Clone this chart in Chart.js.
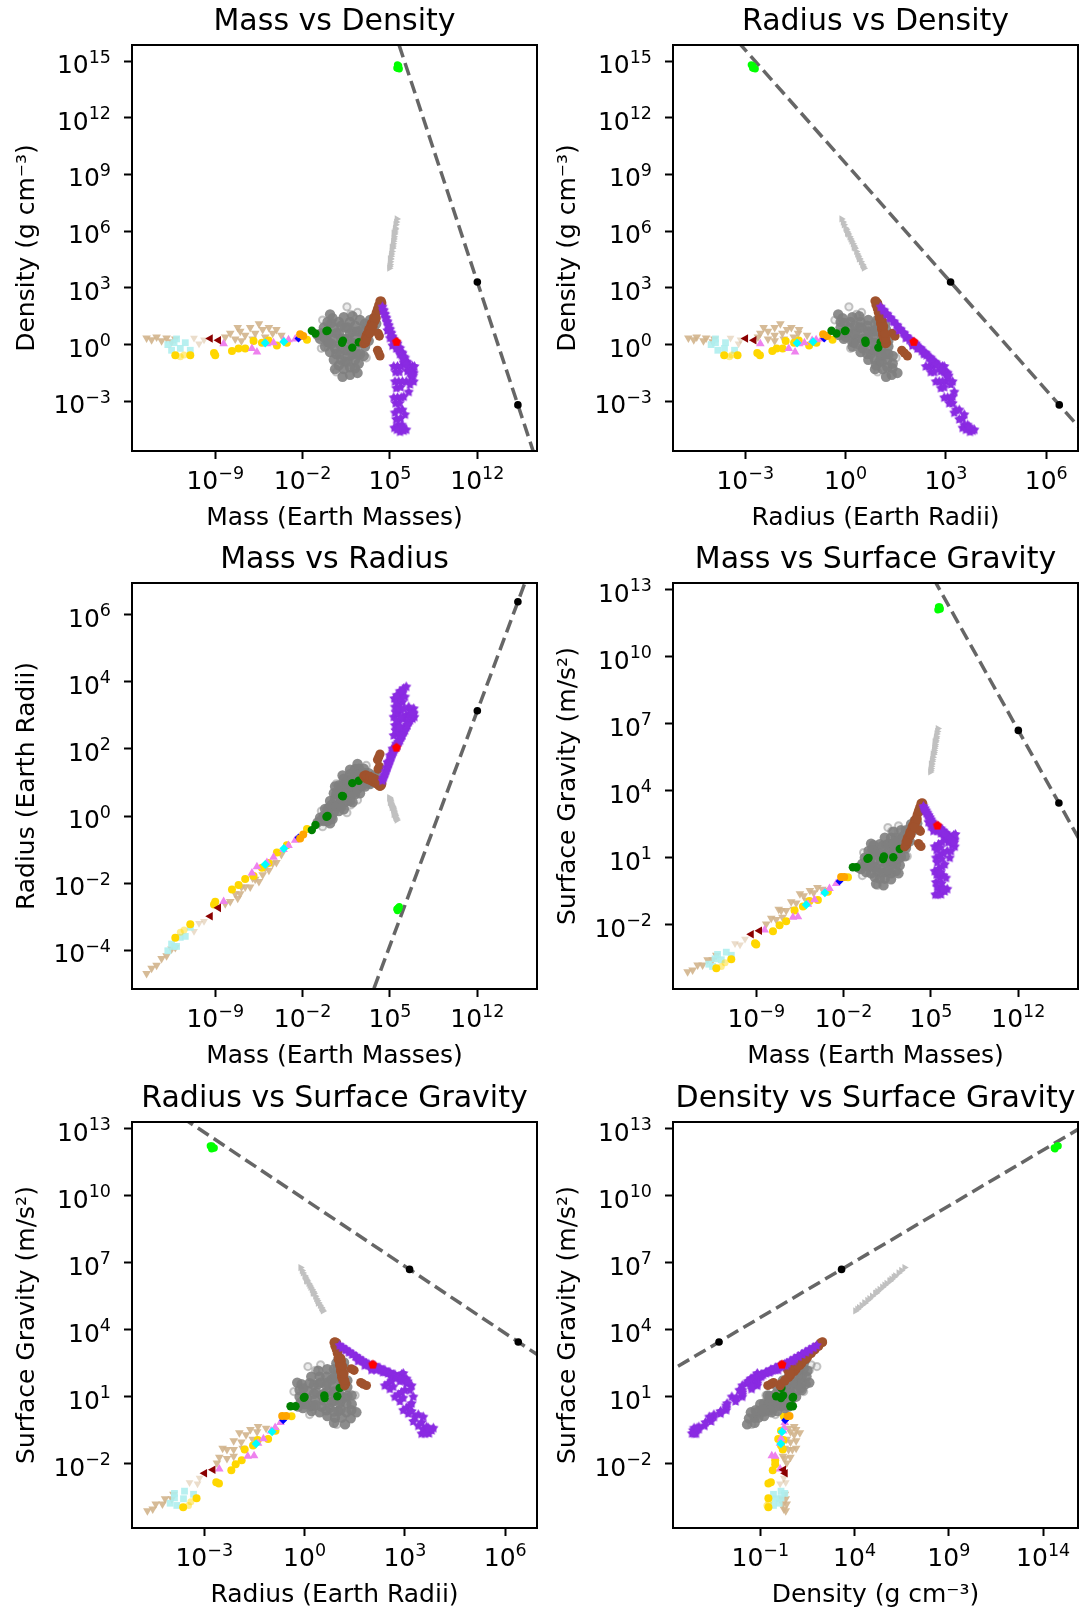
<!DOCTYPE html>
<html>
<head>
<meta charset="utf-8">
<script src="https://cdn.jsdelivr.net/npm/chart.js@4.4.0/dist/chart.umd.min.js"></script>
<style>
  html, body { margin: 0; padding: 0; background: #fff; }
  body { width: 1081px; height: 1614px; position: relative; overflow: hidden; }
  canvas { position: absolute; }
</style>
</head>
<body>
<canvas id="p0" width="542" height="536" style="left:1px;top:0px"></canvas>
<canvas id="p1" width="542" height="536" style="left:542px;top:0px"></canvas>
<canvas id="p2" width="542" height="536" style="left:1px;top:538px"></canvas>
<canvas id="p3" width="542" height="536" style="left:542px;top:538px"></canvas>
<canvas id="p4" width="542" height="536" style="left:1px;top:1077px"></canvas>
<canvas id="p5" width="542" height="536" style="left:542px;top:1077px"></canvas>
<script>
// all values are log10 exponents
// mass in Earth masses, radius in Earth radii, density in g/cm3, gravity in m/s2

const tanMass    = [-14.5,-14.1,-13.7,-13.3,-12.9,-12.5,-12.2,-8.2,-7.8,-7.4,-7.0,-6.6,-6.2,-5.8,-5.5,-5.2,-5.0,-4.7,-4.4,-4.1,-3.7,-6.9,-6.0,-7.2];
const tanRadius  = [-4.70,-4.54,-4.45,-4.25,-4.17,-3.97,-3.92,-2.62,-2.55,-2.32,-2.32,-2.12,-2.12,-1.89,-1.95,-1.75,-1.55,-1.62,-1.42,-1.39,-1.15,-2.12,-1.85,-2.45];
const tanDensity = [0.35,0.25,0.40,0.20,0.35,0.15,0.30,0.4,0.6,0.3,0.7,0.5,0.9,0.6,1.1,0.8,0.4,0.9,0.6,0.8,0.5,0.2,0.3,0.9];
const tanGravity = [-4.11,-4.03,-3.81,-3.81,-3.57,-3.57,-3.37,-1.97,-1.71,-1.77,-1.37,-1.37,-0.97,-1.03,-0.61,-0.71,-0.91,-0.47,-0.57,-0.33,-0.41,-1.67,-1.31,-1.31];

const paleTanMass    = [-10.7,-10.3,-9.9];
const paleTanRadius  = [-3.44,-3.20,-3.14];
const paleTanDensity = [0.35,0.05,0.25];
const paleTanGravity = [-2.84,-2.90,-2.64];

const turqMass    = [-12.8,-12.5,-12.1,-11.8,-11.4,-11.0,-12.3];
const turqRadius  = [-4.02,-3.82,-3.89,-3.62,-3.59,-3.32,-3.89];
const turqDensity = [0.0,-0.3,0.3,-0.2,0.1,-0.3,0.1];
const turqGravity = [-3.77,-3.87,-3.33,-3.57,-3.23,-3.37,-3.53];

const goldMass    = [-12.2,-11.0,-9.1,-9.0,-7.66,-7.13,-6.6,-5.93,-5.26,-4.73,-4.06,-3.26,-1.65];
const goldRadius  = [-3.63,-3.23,-2.64,-2.56,-2.19,-2.06,-1.88,-1.79,-1.54,-1.40,-1.09,-0.87,-0.39];
const goldDensity = [-0.57,-0.57,-0.44,-0.57,-0.34,-0.21,-0.21,0.19,0.10,0.22,-0.05,0.10,0.25];
const goldGravity = [-3.95,-3.55,-2.83,-2.89,-2.29,-2.02,-1.85,-1.36,-1.19,-0.94,-0.89,-0.53,0.12];

const paleGoldMass    = [-11.8,-11.5];
const paleGoldRadius  = [-3.47,-3.40];
const paleGoldDensity = [-0.65,-0.55];
const paleGoldGravity = [-3.87,-3.71];

const violetMass    = [-8.33,-6.06,-5.66,-4.86,-4.33,-3.53,-3.13,-2.59];
const violetRadius  = [-2.55,-1.70,-1.51,-1.39,-1.23,-1.00,-0.88,-0.72];
const violetDensity = [0.05,-0.21,-0.39,0.05,0.10,0.22,0.26,0.30];
const violetGravity = [-2.24,-1.67,-1.65,-1.09,-0.88,-0.54,-0.38,-0.16];

const maroonMass    = [-9.4,-8.74];
const maroonRadius  = [-2.99,-2.74];
const maroonDensity = [0.32,0.23];
const maroonGravity = [-2.43,-2.27];

const cyanMass    = [-5.0,-3.5];
const cyanRadius  = [-1.45,-0.97];
const cyanDensity = [0.09,0.15];
const cyanGravity = [-1.11,-0.57];

const blueMass    = [-2.33];
const blueRadius  = [-0.64];
const blueDensity = [0.32];
const blueGravity = [-0.06];

const orangeMass    = [-2.2,-1.95];
const orangeRadius  = [-0.67,-0.55];
const orangeDensity = [0.55,0.45];
const orangeGravity = [0.13,0.14];

const grayMass    = [-0.3,-0.3,-0.2,0.0,0.1,0.1,0.2,0.4,0.5,0.5,0.6,0.5,0.9,0.9,1.0,1.0,0.9,1.3,1.4,1.3,1.4,1.4,1.3,1.8,1.8,1.8,1.8,1.8,2.2,2.2,2.2,2.2,2.2,2.6,2.6,2.6,2.6,2.5,3.0,3.0,3.0,2.9,3.4,3.4,3.3,
                     -0.1,0.0,0.3,0.3,0.7,0.7,1.1,1.1,1.1,1.6,1.6,1.6,1.6,2.0,2.0,2.0,2.4,2.4,2.8,2.8,3.2,3.2,-0.8,-0.6,
                     3.7,3.7,3.9,1.2,1.8,2.4,0.6,-0.5,0.2,2.0];
const grayRadius  = [-0.15,0.01,0.21,-0.15,0.08,0.25,0.45,-0.09,0.11,0.31,0.51,0.68,0.15,0.35,0.58,0.75,0.91,0.20,0.41,0.58,0.81,1.01,1.11,0.45,0.65,0.85,1.05,1.25,0.65,0.85,1.05,1.25,1.40,0.68,0.88,1.08,1.28,1.41,0.88,1.08,1.28,1.41,0.95,1.11,1.28,
                     0.00,0.20,-0.04,0.33,0.28,0.65,0.28,0.51,0.88,0.48,0.68,0.88,1.08,0.68,0.88,1.08,0.81,1.21,0.91,1.11,0.98,1.15,-0.19,-0.05,
                     1.01,1.21,1.18,1.21,1.38,1.55,0.88,-0.12,-0.22,0.41];
const grayDensity = [0.9,0.4,-0.1,1.2,0.6,0.1,-0.4,1.4,0.9,0.3,-0.2,-0.8,1.2,0.6,0.0,-0.5,-1.1,1.45,0.9,0.3,-0.3,-0.9,-1.3,1.2,0.6,0.0,-0.6,-1.2,1.0,0.4,-0.2,-0.8,-1.25,1.3,0.7,0.1,-0.5,-1.0,1.1,0.5,-0.1,-0.6,1.3,0.8,0.2,
                     0.65,0.15,1.15,0.05,0.6,-0.5,1.0,0.3,-0.8,0.9,0.3,-0.3,-0.9,0.7,0.1,-0.5,0.7,-0.5,0.8,0.2,1.0,0.5,0.5,0.3,
                     1.4,0.8,1.1,-1.7,-1.6,-1.5,-1.3,0.6,1.6,1.5];
const grayGravity = [1.00,0.66,0.36,1.30,0.93,0.60,0.30,1.56,1.26,0.86,0.56,0.13,1.60,1.20,0.83,0.50,0.06,1.90,1.56,1.13,0.76,0.36,0.06,1.90,1.50,1.10,0.70,0.30,1.90,1.50,1.10,0.70,0.40,2.23,1.83,1.43,1.03,0.66,2.23,1.83,1.43,1.06,2.50,2.16,1.73,
                     0.89,0.59,1.37,0.63,1.13,0.39,1.53,1.07,0.33,1.63,1.23,0.83,0.43,1.63,1.23,0.83,1.77,0.97,1.97,1.57,2.23,1.89,0.56,0.49,
                     2.66,2.26,2.53,-0.24,0.03,0.30,-0.17,0.73,1.63,2.16];

const paleGrayMass    = [1.55,1.85,-0.4,0.7,-0.5,3.1,2.4];
const paleGrayRadius  = [0.10,0.33,-0.32,0.96,0.15,1.51,0.48];
const paleGrayDensity = [2.0,1.6,1.3,-1.45,-0.2,-0.7,1.7];
const paleGrayGravity = [2.35,2.18,1.23,-0.24,0.20,1.06,2.43];

// Mercury, Venus, Earth, Mars, Jupiter, Saturn, Uranus, Neptune
const greenMass    = [-1.26,-0.09,0.0,-0.97,2.50,1.98,1.16,1.23];
const greenRadius  = [-0.42,-0.02,0.0,-0.27,1.05,0.98,0.60,0.59];
const greenDensity = [0.73,0.72,0.74,0.59,0.12,-0.16,0.10,0.21];
const greenGravity = [0.57,0.95,0.99,0.57,1.39,1.02,0.94,1.05];

const siennaMass    = [2.9,3.0,3.1,3.2,3.3,3.4,3.5,3.6,3.7,3.8,3.9,4.0,4.1,4.2,4.3,4.35,3.05,3.3,3.55,3.8,4.15,4.05,4.0,4.1,4.2,
                       3.15,3.4,3.65,3.9,4.1,4.25];
const siennaRadius  = [1.20,1.15,1.11,1.11,1.08,1.08,1.05,1.05,1.01,1.01,0.98,0.95,0.91,0.88,0.91,0.96,1.23,1.16,1.13,1.10,1.48,1.40,1.68,1.76,1.85,
                       1.20,1.18,1.13,1.08,1.01,1.00];
const siennaDensity = [0.05,0.3,0.5,0.6,0.8,0.9,1.1,1.2,1.4,1.5,1.7,1.9,2.1,2.3,2.3,2.2,0.1,0.55,0.9,1.25,0.45,0.6,-0.3,-0.45,-0.6,
                       0.3,0.6,1.0,1.4,1.8,2.0];
const siennaGravity = [1.49,1.70,1.86,1.96,2.13,2.23,2.40,2.50,2.66,2.76,2.93,3.10,3.26,3.43,3.46,3.41,1.58,1.96,2.28,2.60,2.18,2.25,1.63,1.56,1.50,
                       1.74,2.03,2.38,2.73,3.07,3.24];

const starMass    = [4.4,4.5,4.6,4.7,4.8,4.9,5.0,5.1,5.2,5.3,5.4,5.5,5.6,5.7,5.8,5.9,6.0,6.1,6.2,6.3,6.4,6.5,6.6,6.7,6.8,6.9,
                     5.5,5.8,6.1,6.4,6.7,6.9,6.3,6.6,6.5,5.2,5.0,4.8,6.8,6.95,
                     5.3,5.6,5.9,5.4,5.7,6.0,5.3,5.6,5.9,5.4,5.7,6.0,5.35,5.65,5.95,5.8,6.1,6.3,
                     4.45,4.55,4.65,4.75,4.85,4.95,5.05,5.15,5.25,5.35,5.45,5.55,5.65,5.75,5.85,5.95,6.05,6.15,6.25,6.35,6.45,6.55,6.65,6.75,6.85,
                     5.45,5.75,5.5,5.85,5.45,5.75,5.5,5.85,5.55,6.0,6.2,6.1];
const starRadius  = [1.05,1.15,1.25,1.35,1.45,1.55,1.65,1.75,1.85,1.92,2.0,2.05,2.1,2.2,2.25,2.35,2.4,2.5,2.55,2.65,2.7,2.8,2.85,2.95,3.0,3.05,
                     2.15,2.35,2.6,2.85,3.05,3.2,3.0,3.15,3.25,2.0,1.8,1.6,2.9,2.95,
                     2.4,2.5,2.6,2.7,2.8,2.9,2.95,3.05,3.15,3.25,3.3,3.4,3.5,3.55,3.65,3.72,3.8,3.85,
                     1.12,1.22,1.32,1.42,1.52,1.62,1.72,1.82,1.92,2.0,2.06,2.12,2.2,2.28,2.35,2.42,2.5,2.58,2.65,2.72,2.8,2.88,2.95,3.02,3.08,
                     2.55,2.65,2.85,2.95,3.1,3.2,3.4,3.5,3.6,3.7,3.55,3.2];
const starDensity = [1.99,1.79,1.59,1.39,1.19,0.99,0.79,0.59,0.39,0.28,0.14,0.09,0.04,-0.16,-0.21,-0.41,-0.46,-0.66,-0.71,-0.91,-0.96,-1.16,-1.21,-1.41,-1.46,-1.51,
                     -0.21,-0.51,-0.96,-1.41,-1.71,-1.96,-1.96,-2.11,-2.51,-0.06,0.34,0.74,-1.16,-1.16,
                     -1.16,-1.16,-1.16,-1.96,-1.96,-1.96,-2.81,-2.81,-2.81,-3.61,-3.46,-3.46,-4.41,-4.26,-4.26,-4.62,-4.56,-4.51,
                     1.83,1.63,1.43,1.23,1.03,0.83,0.63,0.43,0.23,0.09,0.01,-0.07,-0.21,-0.35,-0.46,-0.57,-0.71,-0.85,-0.96,-1.07,-1.21,-1.35,-1.46,-1.57,-1.65,
                     -1.46,-1.46,-2.31,-2.26,-3.11,-3.11,-3.96,-3.91,-4.51,-4.36,-3.71,-2.76];
const starGravity = [3.29,3.19,3.09,2.99,2.89,2.79,2.69,2.59,2.49,2.45,2.39,2.39,2.39,2.29,2.29,2.19,2.19,2.09,2.09,1.99,1.99,1.89,1.89,1.79,1.79,1.79,
                     2.19,2.09,1.89,1.69,1.59,1.49,1.29,1.29,0.99,2.19,2.39,2.59,1.99,2.04,
                     1.49,1.59,1.69,0.99,1.09,1.19,0.39,0.49,0.59,-0.11,0.09,0.19,-0.66,-0.46,-0.36,-0.65,-0.51,-0.41,
                     3.20,3.10,3.00,2.90,2.80,2.70,2.60,2.50,2.40,2.34,2.32,2.30,2.24,2.18,2.14,2.10,2.04,1.98,1.94,1.90,1.84,1.78,1.74,1.70,1.68,
                     1.34,1.44,0.79,0.94,0.24,0.34,-0.31,-0.16,-0.66,-0.41,0.09,0.69];

const sunMass = [5.52], sunRadius = [2.04], sunDensity = [0.15], sunGravity = [2.44];

const silverMass    = [5.55,5.45,5.4,5.35,5.3,5.25,5.2,5.1,5.05,5.0,4.95,5.3,5.15,5.0,
                       5.5,5.42,5.37,5.32,5.27,5.22,5.15,5.08,5.02,4.97];
const silverRadius  = [-0.12,-0.05,0.02,0.08,0.15,0.22,0.28,0.35,0.42,0.5,0.55,0.05,0.25,0.4,
                       -0.08,0.0,0.05,0.12,0.18,0.25,0.32,0.38,0.46,0.52];
const silverDensity = [6.65,6.34,6.08,5.85,5.59,5.33,5.10,4.79,4.53,4.24,4.04,5.89,5.14,4.54,
                       6.48,6.16,5.96,5.70,5.47,5.21,4.93,4.68,4.38,4.15];
const silverGravity = [6.78,6.54,6.35,6.18,5.99,5.80,5.63,5.39,5.20,4.99,4.84,6.19,5.64,5.19,
                       6.65,6.41,6.26,6.07,5.90,5.71,5.50,5.31,5.09,4.92];

const limeMass    = [5.55,5.65,5.75,5.6,5.7];
const limeRadius  = [-2.78,-2.74,-2.70,-2.82,-2.77];
const limeDensity = [14.63,14.61,14.59,14.80,14.75];
const limeGravity = [12.10,12.12,12.14,12.23,12.23];

const blackMass    = [12.0,15.25];
const blackRadius  = [3.14,6.39];
const blackDensity = [3.31,-3.19];
const blackGravity = [6.70,3.45];

// dashed reference line, two far-apart points
const lineMass    = [0, 20];
const lineRadius  = [-8.86, 11.14];
const lineDensity = [27.31, -12.69];
const lineGravity = [18.70, -1.30];

// axis limits (log10) and tick exponents
const massLimits = [-15.67, 16.78],    massTicks = [-9, -2, 5, 12];
const radiusLimits = [-5.16, 6.95];
const radiusTicksX = [-3, 0, 3, 6],    radiusTicksY = [-4, -2, 0, 2, 4, 6];
const densityLimits = [-5.63, 15.85];
const densityTicksX = [-1, 4, 9, 14],  densityTicksY = [-3, 0, 3, 6, 9, 12, 15];
const gravityLimits = [-4.88, 13.30],  gravityTicks = [-2, 1, 4, 7, 10, 13];

function starImage(color, r, inner) {
  const c = document.createElement('canvas');
  c.width = c.height = Math.ceil(2 * r + 2);
  const g = c.getContext('2d');
  g.translate(c.width / 2, c.height / 2);
  g.beginPath();
  for (let i = 0; i < 10; i++) {
    const rr = i % 2 ? r * inner : r;
    const a = -Math.PI / 2 + i * Math.PI / 5;
    g.lineTo(rr * Math.cos(a), rr * Math.sin(a));
  }
  g.closePath();
  g.fillStyle = color;
  g.fill();
  return c;
}
function polyImage(color, r, n) {
  const c = document.createElement('canvas');
  c.width = c.height = Math.ceil(2 * r + 2);
  const g = c.getContext('2d');
  g.translate(c.width / 2, c.height / 2);
  g.beginPath();
  for (let i = 0; i < n; i++) {
    const a = -Math.PI / 2 + i * 2 * Math.PI / n;
    g.lineTo(r * Math.cos(a), r * Math.sin(a));
  }
  g.closePath();
  g.fillStyle = color;
  g.fill();
  return c;
}

// bottom to top drawing order
const groups = [
  { mass: tanMass, radius: tanRadius, density: tanDensity, gravity: tanGravity, fill: 'rgba(210,180,140,0.9)', style: 'triangle', rot: 180, r: 5 },
  { mass: paleTanMass, radius: paleTanRadius, density: paleTanDensity, gravity: paleTanGravity, fill: 'rgba(210,180,140,0.45)', style: 'triangle', rot: 180, r: 4.5 },
  { mass: turqMass, radius: turqRadius, density: turqDensity, gravity: turqGravity, fill: 'rgba(175,238,238,0.9)', style: 'rect', r: 4.8 },
  { mass: paleGoldMass, radius: paleGoldRadius, density: paleGoldDensity, gravity: paleGoldGravity, fill: 'rgba(255,215,0,0.45)', style: 'circle', r: 3.5 },
  { mass: goldMass, radius: goldRadius, density: goldDensity, gravity: goldGravity, fill: '#ffd700', style: 'circle', r: 4 },
  { mass: violetMass, radius: violetRadius, density: violetDensity, gravity: violetGravity, fill: '#ee82ee', style: 'triangle', rot: 0, r: 5 },
  { mass: maroonMass, radius: maroonRadius, density: maroonDensity, gravity: maroonGravity, fill: '#8b0000', style: 'triangle', rot: 270, r: 5 },
  { mass: cyanMass, radius: cyanRadius, density: cyanDensity, gravity: cyanGravity, fill: '#00ffff', style: 'rectRot', r: 4.5 },
  { mass: blueMass, radius: blueRadius, density: blueDensity, gravity: blueGravity, fill: '#0000ff', style: 'rectRot', r: 4 },
  { mass: orangeMass, radius: orangeRadius, density: orangeDensity, gravity: orangeGravity, fill: '#ffa500', style: 'circle', r: 4 },
  { mass: paleGrayMass, radius: paleGrayRadius, density: paleGrayDensity, gravity: paleGrayGravity, fill: 'rgba(128,128,128,0.15)', edge: 'rgba(128,128,128,0.45)', bw: 2, style: 'circle', r: 3.6 },
  { mass: grayMass, radius: grayRadius, density: grayDensity, gravity: grayGravity, fill: 'rgba(128,128,128,0.9)', style: 'circle', r: 5.2 },
  { mass: greenMass, radius: greenRadius, density: greenDensity, gravity: greenGravity, fill: '#008000', style: 'circle', r: 4.2 },
  { mass: siennaMass, radius: siennaRadius, density: siennaDensity, gravity: siennaGravity, fill: '#a0522d', style: 'circle', r: 4.6 },
  { mass: starMass, radius: starRadius, density: starDensity, gravity: starGravity, fill: '#8a2be2', style: starImage('#8a2be2', 5.4, 0.55), r: 4 },
  { mass: sunMass, radius: sunRadius, density: sunDensity, gravity: sunGravity, fill: '#ff0000', style: polyImage('#ff0000', 4.8, 5), r: 4 },
  { mass: silverMass, radius: silverRadius, density: silverDensity, gravity: silverGravity, fill: '#c0c0c0', style: 'triangle', rot: 90, r: 4.2 },
  { mass: limeMass, radius: limeRadius, density: limeDensity, gravity: limeGravity, fill: '#00ff00', style: 'circle', r: 3.6 },
  { mass: blackMass, radius: blackRadius, density: blackDensity, gravity: blackGravity, fill: '#000000', style: 'circle', r: 3.8 }
];
const refLine = { mass: lineMass, radius: lineRadius, density: lineDensity, gravity: lineGravity };

const labels = {
  mass: 'Mass (Earth Masses)',
  radius: 'Radius (Earth Radii)',
  density: 'Density (g cm\u207B\u00B3)',
  gravity: 'Surface Gravity (m/s\u00B2)'
};
const limits = { mass: massLimits, radius: radiusLimits, density: densityLimits, gravity: gravityLimits };
const ticksX = { mass: massTicks, radius: radiusTicksX, density: densityTicksX, gravity: gravityTicks };
const ticksY = { mass: massTicks, radius: radiusTicksY, density: densityTicksY, gravity: gravityTicks };

const panels = [
  { title: 'Mass vs Density', x: 'mass', y: 'density' },
  { title: 'Radius vs Density', x: 'radius', y: 'density' },
  { title: 'Mass vs Radius', x: 'mass', y: 'radius' },
  { title: 'Mass vs Surface Gravity', x: 'mass', y: 'gravity' },
  { title: 'Radius vs Surface Gravity', x: 'radius', y: 'gravity' },
  { title: 'Density vs Surface Gravity', x: 'density', y: 'gravity' }
];

const BASE_FONT = '25px "DejaVu Sans"';
const SUP_FONT = '17.5px "DejaVu Sans"';

// draws frame, title and 10^n tick labels (base + raised exponent)
const frame = {
  id: 'frame',
  afterDraw(chart, args, opts) {
    const { ctx, chartArea: a } = chart;
    ctx.save();
    ctx.strokeStyle = '#000';
    ctx.lineWidth = 2;
    ctx.strokeRect(a.left, a.top, a.right - a.left, a.bottom - a.top);
    ctx.fillStyle = '#000';
    ctx.font = '30px "DejaVu Sans"';
    ctx.textAlign = 'center';
    ctx.textBaseline = 'alphabetic';
    ctx.fillText(opts.text, (a.left + a.right) / 2, a.top - 15);

    ctx.textAlign = 'left';
    const expText = v => String(Math.round(Math.log10(v))).replace('-', '\u2212');
    const xs = chart.scales.x, ys = chart.scales.y;
    xs.ticks.forEach(t => {
      const px = xs.getPixelForValue(t.value);
      const e = expText(t.value);
      ctx.font = BASE_FONT; const wb = ctx.measureText('10').width;
      ctx.font = SUP_FONT;  const we = ctx.measureText(e).width;
      const x0 = px - (wb + we) / 2;
      ctx.font = BASE_FONT; ctx.fillText('10', x0, a.bottom + 38);
      ctx.font = SUP_FONT;  ctx.fillText(e, x0 + wb, a.bottom + 27.5);
    });
    ys.ticks.forEach(t => {
      const py = ys.getPixelForValue(t.value);
      const e = expText(t.value);
      ctx.font = BASE_FONT; const wb = ctx.measureText('10').width;
      ctx.font = SUP_FONT;  const we = ctx.measureText(e).width;
      const x0 = a.left - 21 - wb - we;
      ctx.font = BASE_FONT; ctx.fillText('10', x0, py + 12);
      ctx.font = SUP_FONT;  ctx.fillText(e, x0 + wb, py + 1.5);
    });
    ctx.restore();
  }
};

Chart.defaults.font.family = '"DejaVu Sans", sans-serif';
Chart.defaults.color = '#000';

function logAxis(q, tickList, isX) {
  return {
    type: 'logarithmic',
    bounds: 'data',
    min: Math.pow(10, limits[q][0]),
    max: Math.pow(10, limits[q][1]),
    afterBuildTicks: s => { s.ticks = tickList.map(e => ({ value: Math.pow(10, e) })); },
    afterFit: s => { if (isX) s.height = 85; else s.width = 131; },
    grid: { display: true, drawOnChartArea: false, drawTicks: true, tickLength: 8, tickWidth: 2, tickColor: '#000' },
    border: { display: false },
    ticks: { display: false, autoSkip: false },
    title: { display: true, text: labels[q], font: { size: 25 }, padding: isX ? { top: 0, bottom: 3 } : { top: 11, bottom: 0 } }
  };
}

panels.forEach((p, i) => {
  const datasets = groups.map((g, k) => ({
    data: g[p.x].map((v, j) => ({ x: Math.pow(10, v), y: Math.pow(10, g[p.y][j]) })),
    pointStyle: g.style,
    pointRotation: g.rot || 0,
    pointRadius: g.r,
    pointBackgroundColor: g.fill,
    pointBorderColor: g.edge || 'rgba(0,0,0,0)',
    pointBorderWidth: g.bw || 0,
    order: groups.length - k
  }));
  datasets.push({
    data: refLine[p.x].map((v, j) => ({ x: Math.pow(10, v), y: Math.pow(10, refLine[p.y][j]) })),
    showLine: true,
    borderColor: 'rgba(0,0,0,0.6)',
    borderWidth: 3.5,
    borderDash: [13, 6],
    pointRadius: 0,
    fill: false,
    order: 999
  });
  new Chart(document.getElementById('p' + i), {
    type: 'scatter',
    data: { datasets },
    options: {
      responsive: false,
      animation: false,
      events: [],
      layout: { padding: { top: 45, right: 6, bottom: 0, left: 0 } },
      plugins: { legend: { display: false }, tooltip: { enabled: false }, frame: { text: p.title } },
      scales: { x: logAxis(p.x, ticksX[p.x], true), y: logAxis(p.y, ticksY[p.y], false) }
    },
    plugins: [frame]
  });
});
</script>
</body>
</html>
